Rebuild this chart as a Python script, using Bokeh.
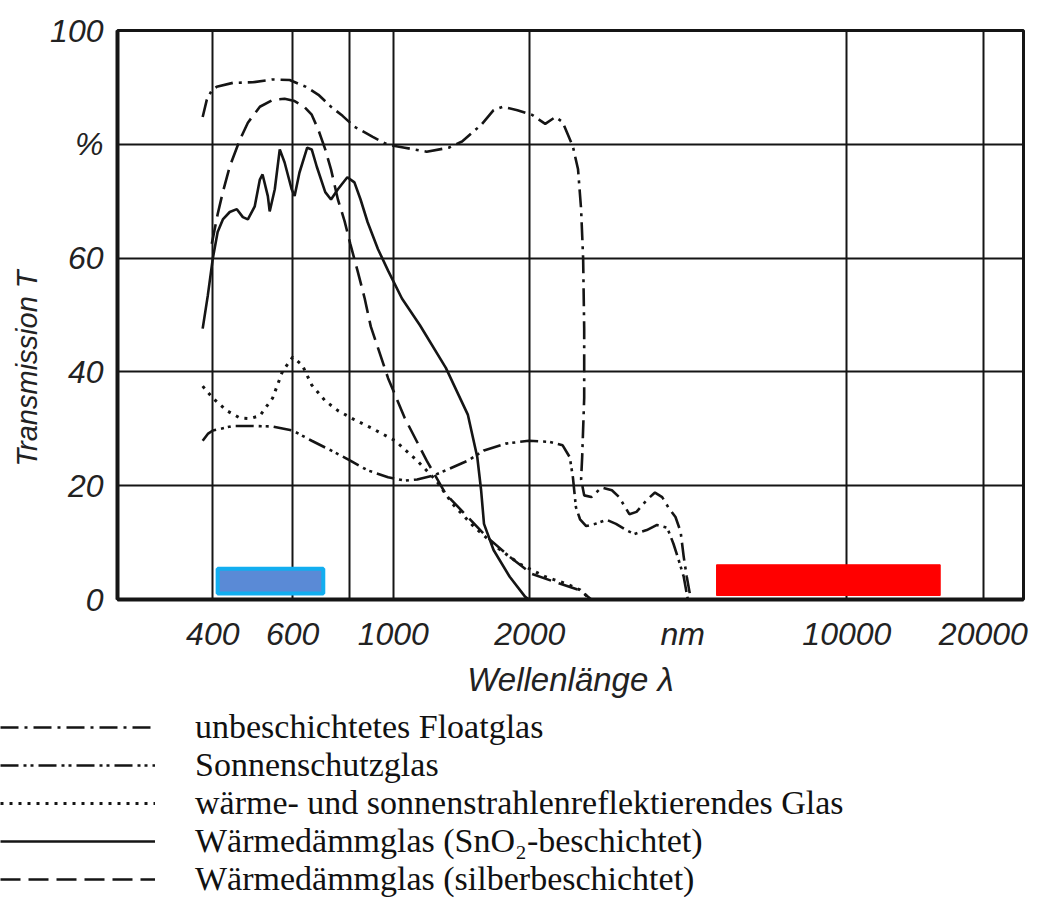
from bokeh.plotting import figure
from bokeh.models import Range1d, FixedTicker, Legend, LegendItem, Title, PrintfTickFormatter
from bokeh.embed import file_html
from bokeh.resources import INLINE

# ---------------- data (wavelength in nm, transmission in %) ----------------
float_wl = [380, 388, 398, 408, 443, 490, 542, 591, 642, 684, 729, 773, 821, 901, 974,
            1060, 1185, 1325, 1418, 1562, 1664, 1746, 1878, 2021, 2163, 2278, 2363, 2489,
            2555, 2595, 2622, 2636, 2636, 2609, 2595, 2636, 2734, 2880, 3034, 3147, 3315,
            3438, 3622, 3776, 3916, 4040, 4190, 4301, 4369, 4437, 4531]
float_T = [84.8, 87.8, 89.5, 90.1, 90.8, 90.9, 91.4, 91.3, 90.1, 88.7, 86.6, 85.0, 83.1, 81.3, 79.9,
           79.4, 78.7, 79.4, 80.5, 83.4, 86.0, 86.6, 86.0, 85.2, 83.6, 84.8, 83.9, 79.6,
           75.6, 68.6, 59.9, 47.6, 35.4, 25.0, 21.1, 18.3, 18.0, 19.7, 19.2, 18.0, 15.0,
           15.4, 17.5, 18.8, 18.0, 16.2, 14.5, 11.9, 7.5, 4.0, 0.0]

sonnen_wl = [380, 390, 400, 443, 490, 542, 600, 661, 729, 804, 878, 974, 1060, 1129, 1226,
             1306, 1460, 1585, 1772, 1990, 2208, 2363, 2450, 2489, 2528, 2581, 2663, 2791,
             2956, 3098, 3263, 3402, 3622, 3815, 4019, 4147, 4256, 4369, 4461]
sonnen_T = [27.9, 29.1, 29.7, 30.5, 30.5, 30.4, 29.7, 27.9, 26.2, 24.4, 22.7, 21.5, 20.9, 21.1, 21.8,
            22.7, 24.4, 26.2, 27.4, 27.9, 27.7, 27.1, 25.0, 21.5, 16.2, 14.1, 12.9, 13.3,
            14.0, 13.3, 12.2, 11.5, 12.2, 13.1, 12.6, 9.8, 7.0, 4.0, 0.0]

refl_wl = [380, 400, 429, 459, 483, 508, 542, 570, 600, 630, 661, 708, 755, 821, 892,
           1010, 1129, 1244, 1351, 1510, 1721, 1896, 2163, 2400, 2581, 2720]
refl_T = [37.5, 35.4, 33.2, 31.9, 31.8, 32.3, 35.4, 40.1, 42.6, 41.2, 37.7, 34.9, 33.2, 31.6, 30.2,
          27.9, 24.4, 20.9, 16.8, 12.7, 8.7, 6.3, 4.0, 2.8, 1.7, 0.0]

sno2_wl = [380, 390, 400, 410, 421, 436, 452, 466, 478, 495, 508, 515, 529, 534, 548, 562,
           576, 597, 606, 621, 646, 661, 678, 708, 729, 755, 792, 821, 847, 878, 925, 974,
           1045, 1145, 1306, 1460, 1532, 1562, 1585, 1664, 1806, 1952, 1990]
sno2_T = [47.6, 53.4, 59.9, 64.6, 66.8, 68.1, 68.6, 67.2, 66.8, 69.1, 73.8, 74.7, 70.9, 68.2, 72.1, 79.1,
          76.8, 72.1, 70.9, 75.0, 79.4, 79.1, 76.1, 71.6, 70.3, 72.1, 74.2, 73.3, 70.3, 66.3, 61.6, 57.8,
          52.9, 48.2, 40.7, 32.5, 25.0, 19.2, 13.3, 8.7, 4.0, 0.5, 0.0]

silber_wl = [398, 410, 421, 436, 459, 478, 508, 542, 576, 606, 636, 661, 684, 708, 729, 755,
             781, 804, 834, 865, 892, 974, 1060, 1185, 1306, 1460, 1608, 1806, 2021, 2326,
             2581, 2734]
silber_T = [62.5, 67.7, 71.6, 76.1, 80.8, 83.8, 86.6, 87.8, 88.0, 87.6, 86.6, 85.2, 82.5, 79.1, 75.6, 70.3,
            66.5, 62.5, 57.8, 52.9, 48.0, 38.9, 31.9, 24.4, 18.5, 14.5, 11.0, 7.5, 4.5, 2.8,
            1.6, 0.0]

# marker bands (visible light / thermal infrared)
visible_band = [410, 701]
visible_T = [1.05, 5.4]
ir_band = [5161, 16065]
ir_T = [0.7, 6.1]

x_tick_values = [400, 600, 1000, 2000, 4346, 10000, 20000]
x_tick_labels = {4346: "nm"}
x_grid_values = [400, 600, 800, 1000, 2000, 10000, 20000]
y_tick_values = [0, 20, 40, 60, 80, 100]
y_tick_labels = {80: "%"}

labels = [
    "unbeschichtetes Floatglas",
    "Sonnenschutzglas",
    "wärme- und sonnenstrahlenreflektierendes Glas",
    "Wärmedämmglas (SnO\u2082-beschichtet)",
    "Wärmedämmglas (silberbeschichtet)",
]

# ---------------- styles ----------------
SANS = "Liberation Sans"
SERIF = "Liberation Serif"
INK = "#151515"
TXT = "#222222"
lw = 2.6
styles = [
    dict(line_color=INK, line_width=lw, line_dash="18 6 3 6"),
    dict(line_color=INK, line_width=lw, line_dash="18 5 3 4 3 5"),
    dict(line_color=INK, line_width=3, line_dash="3 6"),
    dict(line_color=INK, line_width=lw),
    dict(line_color=INK, line_width=lw, line_dash="20 8"),
]
series = [(float_wl, float_T), (sonnen_wl, sonnen_T), (refl_wl, refl_T),
          (sno2_wl, sno2_T), (silber_wl, silber_T)]

# ---------------- main chart ----------------
W = 1045
p = figure(width=W, height=700, x_axis_type="log",
           x_range=Range1d(246.6, 24520), y_range=Range1d(0, 100),
           output_backend="svg", toolbar_location=None,
           min_border_left=117, min_border_right=W - 1023, min_border_top=30, min_border_bottom=97,
           background_fill_color="white", border_fill_color="white")

p.outline_line_color = INK
p.outline_line_width = 3

p.xaxis.ticker = FixedTicker(ticks=x_tick_values)
p.xaxis.formatter = PrintfTickFormatter(format="%d")
p.xaxis.major_label_overrides = x_tick_labels
p.yaxis.ticker = FixedTicker(ticks=y_tick_values)
p.yaxis.major_label_overrides = y_tick_labels

for ax in (p.xaxis, p.yaxis):
    ax.axis_line_color = INK
    ax.axis_line_width = 4
    ax.major_tick_line_color = None
    ax.minor_tick_line_color = None
    ax.major_label_text_font = SANS
    ax.major_label_text_font_style = "italic"
    ax.major_label_text_font_size = "32px"
    ax.major_label_text_color = TXT

p.xaxis.major_label_standoff = 10
p.yaxis.major_label_standoff = 8
p.xaxis.axis_label = "Wellenlänge λ"
p.xaxis.axis_label_text_font = SANS
p.xaxis.axis_label_text_font_style = "italic"
p.xaxis.axis_label_text_font_size = "33px"
p.xaxis.axis_label_text_color = TXT
p.xaxis.axis_label_standoff = 6

p.add_layout(Title(text="Transmission T", align="left", offset=133,
                   text_font=SANS, text_font_style="italic", text_font_size="29px",
                   text_color=TXT), "left")

p.xgrid.ticker = FixedTicker(ticks=x_grid_values)
p.ygrid.ticker = FixedTicker(ticks=[20, 40, 60, 80])
for g in (p.xgrid, p.ygrid):
    g.grid_line_color = INK
    g.grid_line_width = 2
    g.grid_line_alpha = 1.0

# marker bands
p.quad(left=[visible_band[0]], right=[visible_band[1]], bottom=[visible_T[0]], top=[visible_T[1]],
       fill_color="#5a8ad6", line_color="#12aef0", line_width=4)
p.quad(left=[ir_band[0]], right=[ir_band[1]], bottom=[ir_T[0]], top=[ir_T[1]],
       fill_color="#ff0000", line_color="#ff0000", line_width=1)

# curves
for (xs, ys), st in zip(series, styles):
    p.line(xs, ys, **st)

# ---------------- legend panel (separate root, frame = whole canvas) ----------------
q = figure(width=W, height=200, output_backend="svg", toolbar_location=None,
           x_axis_location=None, y_axis_location=None,
           min_border_left=0, min_border_right=0, min_border_top=0, min_border_bottom=0,
           x_range=Range1d(0, 1), y_range=Range1d(0, 1),
           background_fill_color="white", border_fill_color="white")
q.outline_line_color = None
q.grid.visible = False
# same series, drawn outside the (empty) view, only to feed the legend keys
keys = [q.line(xs, ys, **st) for (xs, ys), st in zip(series, styles)]
legend = Legend(items=[LegendItem(label=t, renderers=[r]) for t, r in zip(labels, keys)],
                location=(0, 2), orientation="vertical",
                glyph_width=155, glyph_height=38, label_height=38, label_standoff=40,
                spacing=0, padding=0, margin=0,
                border_line_color=None, background_fill_alpha=0,
                label_text_font=SERIF, label_text_font_size="34px", label_text_color="#111111")
q.add_layout(legend)

open("out.html", "w").write(file_html([p, q], INLINE))
